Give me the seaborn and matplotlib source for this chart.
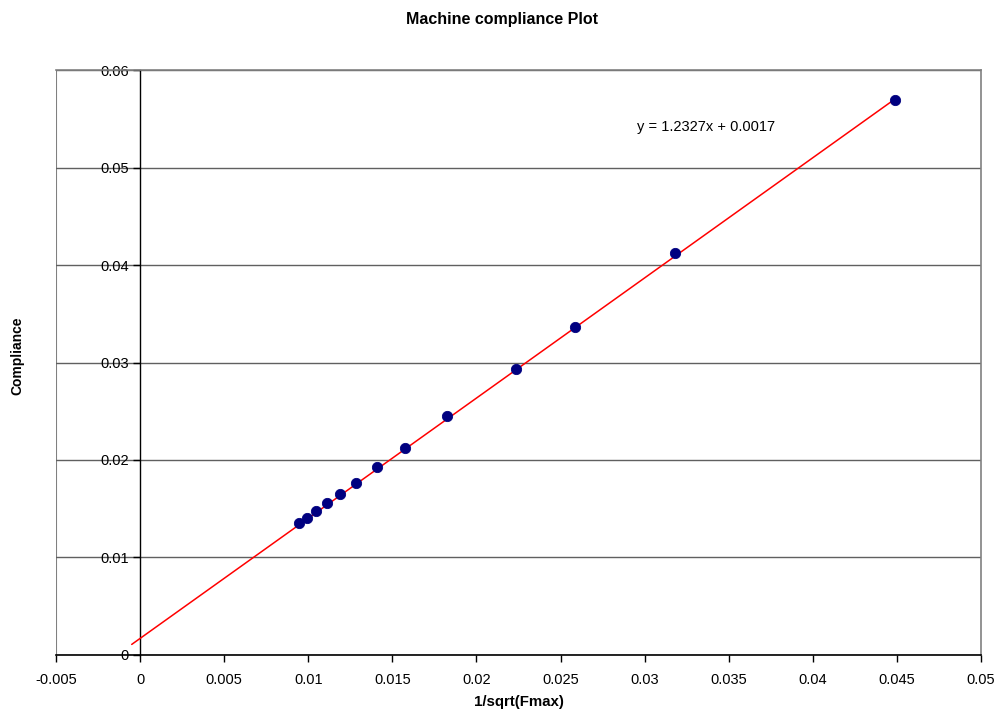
"""
Machine compliance plot: compliance vs 1/sqrt(Fmax) with a linear trend line.
"""
import numpy as np
import pandas as pd
from matplotlib import pyplot as plt
import seaborn as sns

# Data
inv_sqrt_fmax = [0.00944, 0.00992, 0.01045, 0.0111, 0.01188, 0.01283, 0.01408,
                 0.01574, 0.01824, 0.02234, 0.02585, 0.03179, 0.04486]
compliance = [0.01354, 0.01405, 0.01477, 0.01559, 0.01651, 0.01764, 0.01928,
              0.02123, 0.02451, 0.02933, 0.03364, 0.04123, 0.05692]

# Trend line as reported on the chart
slope = 1.2327
intercept = 0.0017
trend_start = -0.0005

x_ticks = [-0.005, 0, 0.005, 0.01, 0.015, 0.02, 0.025, 0.03, 0.035, 0.04, 0.045, 0.05]
x_tick_labels = ["-0.005", "0", "0.005", "0.01", "0.015", "0.02", "0.025",
                 "0.03", "0.035", "0.04", "0.045", "0.05"]
y_ticks = [0, 0.01, 0.02, 0.03, 0.04, 0.05, 0.06]
y_tick_labels = ["0", "0.01", "0.02", "0.03", "0.04", "0.05", "0.06"]


def plot(outfile):
    data = pd.DataFrame({"x": inv_sqrt_fmax, "y": compliance})

    sns.set_style("white", {"text.color": "black", "axes.labelcolor": "black",
                            "xtick.color": "black", "ytick.color": "black"})
    plt.rcParams["font.family"] = ["Liberation Sans", "DejaVu Sans"]

    fig, ax = plt.subplots(
        figsize=(9.97, 7.11),
        gridspec_kw=dict(left=0.0562, right=0.984, bottom=0.0788, top=0.9015),
    )

    # Trend line
    x_line = np.array([trend_start, max(inv_sqrt_fmax)])
    ax.plot(x_line, slope * x_line + intercept, color="red", lw=1.1, zorder=3)

    # Points
    sns.scatterplot(
        data=data, x="x", y="y", ax=ax,
        color="#000080", edgecolor="#000080", s=55, zorder=4,
    )

    # Axes limits and ticks
    ax.set_xlim(-0.005, 0.05)
    ax.set_ylim(0, 0.06)
    ax.set_xticks(x_ticks)
    ax.set_xticklabels(x_tick_labels)
    ax.set_yticks(y_ticks)
    ax.set_yticklabels(y_tick_labels)

    # Horizontal gridlines
    ax.yaxis.grid(True, color="#606060", lw=1.0)
    ax.set_axisbelow(True)

    # Spines: y axis at x=0, gray plot border
    ax.spines["left"].set_position(("data", 0))
    ax.spines["left"].set_color("black")
    ax.spines["left"].set_linewidth(1.0)
    ax.spines["bottom"].set_color("black")
    ax.spines["bottom"].set_linewidth(1.2)
    for side in ["top", "right"]:
        ax.spines[side].set_visible(True)
        ax.spines[side].set_color("#808080")
        ax.spines[side].set_linewidth(1.2)
    ax.axvline(-0.005, color="#808080", lw=1.5, zorder=0)

    ax.tick_params(axis="both", which="major", labelsize=10.5, direction="out",
                   length=5, width=1, color="black", labelcolor="black")
    ax.tick_params(axis="y", pad=3)
    ax.tick_params(axis="x", pad=8)
    ax.xaxis.set_ticks_position("bottom")
    ax.yaxis.set_ticks_position("left")

    # Labels
    ax.set_xlabel("1/sqrt(Fmax)", fontsize=10.8, weight="bold", labelpad=6,
                  color="black")
    ax.set_ylabel("")
    fig.text(0.017, 0.5, "Compliance", rotation=90, fontsize=10,
             weight="bold", ha="center", va="center", color="black")
    fig.text(0.504, 0.973, "Machine compliance Plot", fontsize=11.5,
             weight="bold", ha="center", va="center", color="black")

    # Equation
    ax.text(0.02957, 0.05415, "y = 1.2327x + 0.0017", fontsize=10.5,
            ha="left", va="center", color="black")

    plt.savefig(outfile, dpi=100)


plot("out.png")
